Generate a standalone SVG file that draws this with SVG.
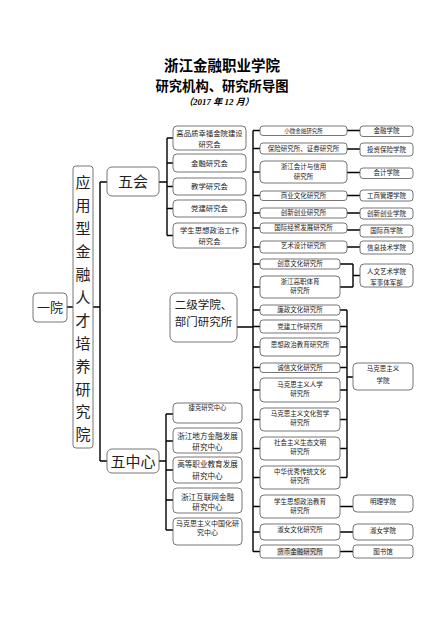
<svg xmlns="http://www.w3.org/2000/svg" width="440" height="622" viewBox="0 0 440 622">
<style>
text{font-family:"Noto Sans CJK SC","Noto Sans",sans-serif;fill:#222;text-anchor:middle}
.b{fill:#fff;stroke:#666;stroke-width:0.9}
.c{fill:none;stroke:#000;stroke-width:1.4}
.t1{font-size:14.5px;font-weight:bold;fill:#000}
.t2{font-size:13.3px;font-weight:bold;fill:#000}
.t3{font-size:9px;font-weight:bold;font-style:italic;fill:#000;font-family:"Liberation Serif","Noto Sans CJK SC",serif}
.s13{font-size:13px}
.s15{font-size:15px}
.s11{font-size:11.5px}
.s74{font-size:7.4px}
.s76{font-size:7.6px}
.s7{font-size:7px}
.s65{font-size:6.5px}
.s63{font-size:6.3px}
.s55{font-size:5.5px}
</style>
<rect width="440" height="622" fill="#fff"/>
<g id="title">
<text class="t1" x="222" y="71">浙江金融职业学院</text>
<text class="t2" x="222" y="91">研究机构、研究所导图</text>
<text class="t3" x="219" y="105">（2017 年  12 月）</text>
</g>
<g id="connectors">
<path class="c" d="M67 307H73M93 307H100M100 182V461M100 182H107M100 461H107"/>
<path class="c" d="M159 182H167M167 138V235.5M167 138H173M167 163H173M167 186.5H173M167 208.5H173M167 235.5H173"/>
<path class="c" d="M159 461H166M166 414V530M166 414H173M166 441H173M166 470H173M166 500H173M166 530H173"/>
<path class="c" d="M237 327H253M253 130.5V551.5M253 130.5H260M253 148.5H260M253 172H260M253 195.5H260M253 213H260M253 228H260M253 247H260M253 264H260M253 287H260M253 310H260M253 326.5H260M253 347H260M253 367.5H260M253 390H260M253 419.5H260M253 448.5H260M253 477.5H260M253 506.5H260M253 532H260M253 551.5H260"/>
<path class="c" d="M347 130.5H360M347 149H360M347 172.5H360M347 195.5H360M347 213H360M347 230H360M347 247H360"/>
<path class="c" d="M340 264H353M340 287H353M353 264V287M353 275.5H360"/>
<path class="c" d="M340 310H347M340 326.5H347M340 347H347M340 367.5H347M340 390H347M340 419.5H347M340 448.5H347M340 477.5H347M347 310V477.5M347 377H353"/>
<path class="c" d="M340 506.5H353M340 532H353M340 551.5H353"/>
</g>
<g id="n-yiyuan"><rect class="b" x="33" y="293" width="34" height="29" rx="4"/><text class="s13" x="50" y="312">一院</text></g>
<g id="n-yanjiuyuan"><rect class="b" x="73" y="166" width="20" height="282" rx="3"/>
<text class="s15" x="83" y="188.4">应</text><text class="s15" x="83" y="211.3">用</text><text class="s15" x="83" y="234.2">型</text><text class="s15" x="83" y="257.1">金</text><text class="s15" x="83" y="280">融</text><text class="s15" x="83" y="302.9">人</text><text class="s15" x="83" y="325.8">才</text><text class="s15" x="83" y="348.7">培</text><text class="s15" x="83" y="371.6">养</text><text class="s15" x="83" y="394.5">研</text><text class="s15" x="83" y="417.4">究</text><text class="s15" x="83" y="440.3">院</text></g>
<g id="n-wuhui"><rect class="b" x="107" y="167" width="52" height="29" rx="5"/><text class="s15" x="133" y="187">五会</text></g>
<g id="n-wuzhongxin"><rect class="b" x="107" y="449" width="52" height="24" rx="5"/><text class="s15" x="133" y="466.5">五中心</text></g>
<g id="n-h1"><rect class="b" x="173" y="126" width="73" height="24" rx="4"/><text class="s74" x="209.5" y="136.2">高品质幸福金院建设</text><text class="s74" x="209.5" y="146.7">研究会</text></g>
<g id="n-h2"><rect class="b" x="173" y="154" width="73" height="18" rx="4"/><text class="s74" x="209.5" y="165.7">金融研究会</text></g>
<g id="n-h3"><rect class="b" x="173" y="178" width="73" height="17" rx="4"/><text class="s74" x="209.5" y="189.2">教学研究会</text></g>
<g id="n-h4"><rect class="b" x="173" y="200" width="73" height="17" rx="4"/><text class="s74" x="209.5" y="211.2">党建研究会</text></g>
<g id="n-h5"><rect class="b" x="173" y="223" width="73" height="25" rx="4"/><text class="s74" x="209.5" y="233.2">学生思想政治工作</text><text class="s74" x="209.5" y="243.7">研究会</text></g>
<g id="n-erji"><rect class="b" x="170" y="293" width="67" height="49" rx="6"/><text class="s11" x="203.5" y="309.1">二级学院、</text><text class="s11" x="203.5" y="326.1">部门研究所</text></g>
<g id="n-z1"><rect class="b" x="173" y="403" width="69" height="20" rx="4"/><text class="s63" x="207.5" y="410.3">捷克研究中心</text></g>
<g id="n-z2"><rect class="b" x="173" y="428" width="69" height="25" rx="4"/><text class="s76" x="207.5" y="438.7">浙江地方金融发展</text><text class="s76" x="207.5" y="449.7">研究中心</text></g>
<g id="n-z3"><rect class="b" x="173" y="457" width="69" height="26" rx="4"/><text class="s76" x="207.5" y="466.7">高等职业教育发展</text><text class="s76" x="207.5" y="478.7">研究中心</text></g>
<g id="n-z4"><rect class="b" x="173" y="488" width="69" height="25" rx="4"/><text class="s76" x="207.5" y="499.7">浙江互联网金融</text><text class="s76" x="207.5" y="509.7">研究中心</text></g>
<g id="n-z5"><rect class="b" x="173" y="518" width="69" height="27" rx="4"/><text class="s7" x="207.5" y="526">马克思主义中国化研</text><text class="s7" x="207.5" y="534.5">究中心</text></g>
<g id="n-r1"><rect class="b" x="260" y="126" width="87" height="9.5" rx="3"/><text class="s55" x="303.5" y="132.5">小微金融研究所</text></g>
<g id="n-r2"><rect class="b" x="260" y="143" width="87" height="11" rx="3"/><text class="s65" x="303.5" y="150.9">保险研究所、证券研究所</text></g>
<g id="n-r3"><rect class="b" x="260" y="161" width="87" height="22" rx="4"/><text class="s65" x="303.5" y="169.3">浙江会计与信用</text><text class="s65" x="303.5" y="179.3">研究所</text></g>
<g id="n-r4"><rect class="b" x="260" y="191" width="87" height="9.5" rx="3"/><text class="s65" x="303.5" y="197.9">商业文化研究所</text></g>
<g id="n-r5"><rect class="b" x="260" y="208" width="87" height="10" rx="3"/><text class="s65" x="303.5" y="215.4">创新创业研究所</text></g>
<g id="n-r6"><rect class="b" x="260" y="223" width="87" height="10" rx="3"/><text class="s65" x="303.5" y="230.4">国际经贸发展研究所</text></g>
<g id="n-r7"><rect class="b" x="260" y="241" width="87" height="12" rx="3"/><text class="s65" x="303.5" y="248.4">艺术设计研究所</text></g>
<g id="n-r8"><rect class="b" x="260" y="259" width="80" height="10" rx="3"/><text class="s65" x="300" y="266.4">创意文化研究所</text></g>
<g id="n-r9"><rect class="b" x="260" y="276" width="80" height="22" rx="4"/><text class="s65" x="300" y="284.4">浙江高职体育</text><text class="s65" x="300" y="293.4">研究所</text></g>
<g id="n-r10"><rect class="b" x="260" y="305" width="80" height="10" rx="3"/><text class="s65" x="300" y="312.4">廉政文化研究所</text></g>
<g id="n-r11"><rect class="b" x="260" y="320" width="80" height="13" rx="3"/><text class="s65" x="300" y="328.9">党建工作研究所</text></g>
<g id="n-r12"><rect class="b" x="260" y="338" width="80" height="18" rx="4"/><text class="s65" x="300" y="347.4">思想政治教育研究所</text></g>
<g id="n-r13"><rect class="b" x="260" y="363" width="80" height="9.5" rx="3"/><text class="s65" x="300" y="369.9">诚信文化研究所</text></g>
<g id="n-r14"><rect class="b" x="260" y="378" width="80" height="24" rx="4"/><text class="s65" x="300" y="387.4">马克思主义人学</text><text class="s65" x="300" y="395.9">研究所</text></g>
<g id="n-r15"><rect class="b" x="260" y="408" width="80" height="23" rx="4"/><text class="s65" x="300" y="416.4">马克思主义文化哲学</text><text class="s65" x="300" y="425.4">研究所</text></g>
<g id="n-r16"><rect class="b" x="260" y="437" width="80" height="23" rx="4"/><text class="s65" x="300" y="445.4">社会主义生态文明</text><text class="s65" x="300" y="454.4">研究所</text></g>
<g id="n-r17"><rect class="b" x="260" y="466" width="80" height="23" rx="4"/><text class="s65" x="300" y="474.4">中华优秀传统文化</text><text class="s65" x="300" y="483.4">研究所</text></g>
<g id="n-r18"><rect class="b" x="260" y="495" width="80" height="23" rx="4"/><text class="s65" x="300" y="504.4">学生思想政治教育</text><text class="s65" x="300" y="512.9">研究所</text></g>
<g id="n-r19"><rect class="b" x="260" y="524" width="80" height="16" rx="4"/><text class="s65" x="300" y="532.4">淑女文化研究所</text></g>
<g id="n-r20"><rect class="b" x="260" y="545" width="80" height="13" rx="3"/><rect x="277" y="548" width="46" height="8" fill="#ddd"/><text class="s65" x="300" y="554.4">货币金融研究所</text></g>
<g id="n-x1"><rect class="b" x="360" y="126" width="53" height="10.5" rx="3"/><text class="s65" x="386.5" y="133.4">金融学院</text></g>
<g id="n-x2"><rect class="b" x="360" y="143" width="53" height="13" rx="3"/><text class="s65" x="386.5" y="152.4">投资保险学院</text></g>
<g id="n-x3"><rect class="b" x="360" y="168" width="53" height="10.5" rx="3"/><text class="s65" x="386.5" y="175.4">会计学院</text></g>
<g id="n-x4"><rect class="b" x="360" y="190" width="53" height="11" rx="3"/><text class="s65" x="386.5" y="197.9">工商管理学院</text></g>
<g id="n-x5"><rect class="b" x="360" y="208" width="53" height="11" rx="3"/><text class="s65" x="386.5" y="215.9">创新创业学院</text></g>
<g id="n-x6"><rect class="b" x="360" y="225" width="53" height="12" rx="3"/><text class="s65" x="386.5" y="233.4">国际商学院</text></g>
<g id="n-x7"><rect class="b" x="360" y="241" width="53" height="13" rx="3"/><text class="s65" x="386.5" y="249.9">信息技术学院</text></g>
<g id="n-x8"><rect class="b" x="360" y="264" width="53" height="23" rx="4"/><text class="s65" x="386.5" y="274.1">人文艺术学院</text><text class="s65" x="386.5" y="285.4">军事体军部</text></g>
<g id="n-x9"><rect class="b" x="353" y="363" width="60" height="27" rx="4"/><text class="s65" x="383" y="371.4">马克思主义</text><text class="s65" x="383" y="383.4">学院</text></g>
<g id="n-x10"><rect class="b" x="353" y="495" width="60" height="17" rx="4"/><text class="s65" x="383" y="504.4">明理学院</text></g>
<g id="n-x11"><rect class="b" x="353" y="524" width="60" height="16" rx="4"/><text class="s65" x="383" y="533.4">淑女学院</text></g>
<g id="n-x12"><rect class="b" x="353" y="545" width="60" height="13" rx="3"/><text class="s65" x="383" y="554.4">图书馆</text></g>
</svg>
